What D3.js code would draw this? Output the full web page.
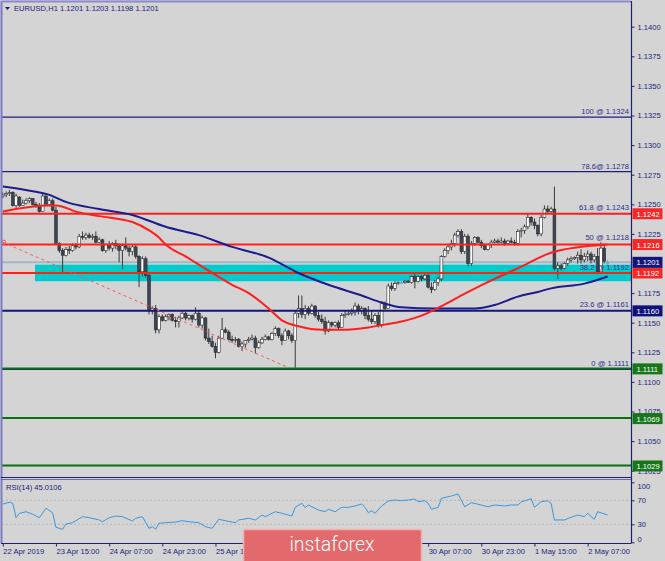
<!DOCTYPE html>
<html><head><meta charset="utf-8">
<script src="https://cdn.jsdelivr.net/npm/d3@7"></script>
<style>
html,body{margin:0;padding:0;background:#d4d4d4;}
svg{display:block;font-family:"Liberation Sans",Arial,sans-serif;}
</style>
</head><body>
<svg id="c" width="665" height="561"></svg>
<script>
// ---------------- DATA ----------------
const titleText = "EURUSD,H1  1.1201 1.1203 1.1198 1.1201";
const rsiTitle = "RSI(14) 45.0106";

const opens = [1.1257,1.1258,1.1259,1.1260,1.1249,1.1256,1.1249,1.1251,1.1253,1.1255,
1.1250,1.1248,1.1244,1.1257,1.1250,1.1253,1.1245,1.1217,1.1211,1.1207,
1.1212,1.1211,1.1215,1.1214,1.1223,1.1222,1.1224,1.1222,1.1223,1.1218,
1.1220,1.1211,1.1216,1.1213,1.1217,1.1215,1.1211,1.1215,1.1213,1.1210,
1.1214,1.1206,1.1193,1.1204,1.1190,1.1160,1.1162,1.1144,1.1155,1.1152,
1.1155,1.1157,1.1152,1.1151,1.1154,1.1158,1.1154,1.1156,1.1153,1.1158,
1.1148,1.1154,1.1137,1.1134,1.1130,1.1125,1.1137,1.1144,1.1142,1.1136,
1.1135,1.1136,1.1130,1.1132,1.1135,1.1136,1.1137,1.1129,1.1133,1.1136,
1.1138,1.1136,1.1141,1.1145,1.1139,1.1135,1.1143,1.1139,1.1135,1.1158,
1.1162,1.1157,1.1162,1.1158,1.1164,1.1156,1.1153,1.1151,1.1143,1.1150,
1.1148,1.1150,1.1146,1.1156,1.1157,1.1158,1.1159,1.1164,1.1160,1.1162,
1.1156,1.1153,1.1151,1.1156,1.1148,1.1166,1.1162,1.1181,1.1179,1.1183,
1.1184,1.1184,1.1185,1.1184,1.1189,1.1185,1.1189,1.1187,1.1190,1.1180,
1.1178,1.1184,1.1187,1.1206,1.1211,1.1214,1.1217,1.1224,1.1227,1.1210,
1.1223,1.1200,1.1217,1.1222,1.1218,1.1215,1.1212,1.1216,1.1218,1.1219,
1.1218,1.1219,1.1217,1.1219,1.1218,1.1217,1.1227,1.1228,1.1231,1.1239,
1.1235,1.1232,1.1225,1.1239,1.1246,1.1244,1.1246,1.1196,1.1198,1.1196,
1.1200,1.1203,1.1204,1.1205,1.1207,1.1203,1.1206,1.1208,1.1203,1.1206,
1.1193,1.1213,1.1201];

const highs = [1.1260,1.1261,1.1262,1.1261,1.1259,1.1257,1.1254,1.1255,1.1256,1.1255,
1.1252,1.1251,1.1259,1.1259,1.1255,1.1255,1.1248,1.1218,1.1213,1.1214,
1.1215,1.1217,1.1217,1.1225,1.1227,1.1226,1.1226,1.1225,1.1227,1.1222,
1.1221,1.1217,1.1219,1.1218,1.1220,1.1217,1.1217,1.1222,1.1215,1.1216,
1.1216,1.1207,1.1206,1.1206,1.1191,1.1164,1.1165,1.1157,1.1157,1.1157,
1.1158,1.1158,1.1155,1.1156,1.1160,1.1159,1.1157,1.1157,1.1163,1.1160,
1.1156,1.1155,1.1145,1.1139,1.1133,1.1139,1.1154,1.1146,1.1144,1.1139,
1.1138,1.1137,1.1134,1.1135,1.1138,1.1140,1.1139,1.1135,1.1138,1.1140,
1.1139,1.1142,1.1147,1.1146,1.1141,1.1145,1.1144,1.1141,1.1160,1.1173,
1.1173,1.1165,1.1164,1.1166,1.1165,1.1159,1.1157,1.1155,1.1152,1.1151,
1.1151,1.1152,1.1158,1.1160,1.1161,1.1162,1.1167,1.1166,1.1164,1.1163,
1.1164,1.1160,1.1158,1.1159,1.1168,1.1168,1.1183,1.1184,1.1185,1.1185,
1.1186,1.1186,1.1186,1.1190,1.1191,1.1190,1.1190,1.1192,1.1191,1.1184,
1.1186,1.1189,1.1207,1.1213,1.1216,1.1220,1.1226,1.1229,1.1229,1.1225,
1.1225,1.1219,1.1223,1.1223,1.1220,1.1217,1.1217,1.1220,1.1221,1.1221,
1.1222,1.1221,1.1220,1.1222,1.1220,1.1229,1.1230,1.1233,1.1242,1.1240,
1.1238,1.1233,1.1241,1.1249,1.1249,1.1248,1.1265,1.1201,1.1200,1.1201,
1.1205,1.1206,1.1206,1.1210,1.1212,1.1209,1.1211,1.1210,1.1208,1.1213,
1.1218,1.1216,1.1203];

const lows = [1.1255,1.1256,1.1257,1.1248,1.1247,1.1248,1.1249,1.1250,1.1251,1.1249,
1.1247,1.1243,1.1244,1.1249,1.1249,1.1244,1.1217,1.1209,1.1192,1.1206,
1.1208,1.1210,1.1212,1.1213,1.1220,1.1220,1.1221,1.1220,1.1217,1.1217,
1.1210,1.1209,1.1211,1.1210,1.1212,1.1201,1.1195,1.1211,1.1206,1.1207,
1.1204,1.1180,1.1189,1.1188,1.1157,1.1157,1.1141,1.1141,1.1151,1.1151,
1.1152,1.1151,1.1146,1.1146,1.1153,1.1152,1.1152,1.1150,1.1152,1.1146,
1.1145,1.1135,1.1132,1.1129,1.1120,1.1124,1.1136,1.1141,1.1135,1.1133,
1.1133,1.1129,1.1126,1.1129,1.1133,1.1135,1.1124,1.1128,1.1132,1.1135,
1.1135,1.1135,1.1139,1.1137,1.1131,1.1135,1.1136,1.1133,1.1112,1.1154,
1.1154,1.1153,1.1156,1.1157,1.1154,1.1151,1.1149,1.1140,1.1142,1.1146,
1.1146,1.1144,1.1146,1.1154,1.1156,1.1156,1.1156,1.1157,1.1157,1.1153,
1.1151,1.1149,1.1149,1.1146,1.1146,1.1160,1.1162,1.1177,1.1177,1.1182,
1.1183,1.1183,1.1184,1.1183,1.1179,1.1184,1.1185,1.1186,1.1179,1.1175,
1.1177,1.1181,1.1185,1.1205,1.1208,1.1211,1.1214,1.1222,1.1208,1.1208,
1.1198,1.1198,1.1215,1.1217,1.1213,1.1211,1.1211,1.1213,1.1217,1.1217,
1.1217,1.1215,1.1216,1.1217,1.1215,1.1215,1.1222,1.1225,1.1229,1.1232,
1.1229,1.1223,1.1223,1.1238,1.1242,1.1242,1.1194,1.1187,1.1194,1.1195,
1.1198,1.1201,1.1203,1.1200,1.1200,1.1201,1.1202,1.1200,1.1201,1.1191,
1.1191,1.1200,1.1199];

const closes = [1.1258,1.1259,1.1260,1.1249,1.1257,1.1249,1.1251,1.1253,1.1255,1.1250,
1.1248,1.1244,1.1257,1.1250,1.1253,1.1245,1.1217,1.1211,1.1207,1.1212,
1.1211,1.1215,1.1214,1.1223,1.1222,1.1224,1.1222,1.1223,1.1218,1.1220,
1.1211,1.1216,1.1213,1.1217,1.1215,1.1211,1.1215,1.1213,1.1210,1.1214,
1.1206,1.1193,1.1204,1.1190,1.1160,1.1162,1.1144,1.1155,1.1152,1.1155,
1.1157,1.1152,1.1151,1.1154,1.1158,1.1154,1.1156,1.1153,1.1158,1.1148,
1.1154,1.1137,1.1134,1.1130,1.1125,1.1137,1.1144,1.1142,1.1136,1.1135,
1.1136,1.1130,1.1132,1.1135,1.1136,1.1137,1.1129,1.1133,1.1136,1.1138,
1.1136,1.1141,1.1145,1.1139,1.1135,1.1143,1.1139,1.1135,1.1158,1.1162,
1.1157,1.1162,1.1158,1.1164,1.1156,1.1153,1.1151,1.1143,1.1150,1.1148,
1.1150,1.1146,1.1156,1.1157,1.1158,1.1159,1.1164,1.1160,1.1162,1.1156,
1.1153,1.1151,1.1156,1.1148,1.1166,1.1162,1.1181,1.1179,1.1183,1.1184,
1.1184,1.1185,1.1184,1.1189,1.1185,1.1189,1.1187,1.1190,1.1180,1.1178,
1.1184,1.1187,1.1206,1.1211,1.1214,1.1217,1.1224,1.1227,1.1210,1.1223,
1.1200,1.1217,1.1222,1.1218,1.1215,1.1212,1.1216,1.1218,1.1219,1.1218,
1.1219,1.1217,1.1219,1.1218,1.1217,1.1227,1.1228,1.1231,1.1239,1.1235,
1.1232,1.1225,1.1239,1.1246,1.1244,1.1246,1.1196,1.1198,1.1196,1.1200,
1.1203,1.1204,1.1205,1.1207,1.1203,1.1206,1.1208,1.1203,1.1206,1.1193,
1.1213,1.1202,1.1201];

// moving averages: [bar index, price]
const redMA = [[0,1.1244],[14,1.1249],[16,1.1249],[23,1.1243],[29,1.1240],[39,1.1235],[44,1.1228],[47,1.1222],[49,1.1216],[55,1.1206],[63,1.1192],[69,1.1182],[74,1.1175],[80,1.1162],[84,1.1152],[89,1.1147],[96,1.1144],[102,1.1144],[110,1.1146],[114,1.1148],[120,1.1151],[126,1.1156],[132,1.1164],[138,1.1173],[145,1.1183],[155,1.1196],[166,1.1210],[182,1.1216]];
const blueMA = [[0,1.1265],[9,1.1261],[14,1.1258],[19,1.1252],[29,1.1246],[39,1.1241],[49,1.1231],[59,1.1224],[69,1.1214],[80,1.1205],[89,1.1192],[98,1.1182],[108,1.1173],[114,1.1167],[120,1.1163],[130,1.1162],[142,1.1162],[148,1.1165],[155,1.1172],[161,1.1176],[165,1.1179],[175,1.1183],[182,1.1189]];

// RSI(14): [bar index, value]
const rsiData = [[0,63.8],[2,66.7],[3,65],[4,41],[5,48.3],[7,51],[9,46.7],[11,41],[13,56.7],[15,49.3],[16,25],[18,21.7],[19,30.5],[21,32.7],[24,42.7],[26,41],[29,37.2],[30,34.3],[32,41],[34,43.8],[36,42.7],[39,35.5],[40,40],[42,42.7],[44,23.3],[45,26],[46,21.7],[47,31.7],[49,32.7],[52,33.8],[54,36],[56,34.3],[59,32.7],[61,26],[63,23.3],[65,38.3],[67,36],[70,32.7],[71,37.2],[74,40],[76,37.2],[78,45.5],[79,42.7],[82,51],[84,48.3],[87,43.8],[88,58.3],[90,65],[91,57.7],[92,62.2],[95,53.8],[97,51],[98,55],[100,51],[102,58.3],[104,58.3],[106,60.5],[108,63.8],[109,58.3],[110,49.3],[111,52.7],[112,48.3],[114,60.5],[116,68.8],[118,70.5],[120,69.3],[122,70.5],[124,72.2],[125,67.7],[127,69.3],[128,65],[129,55],[131,58.3],[132,73.3],[135,77.2],[137,80.5],[139,59.3],[141,66],[144,62.2],[146,59.3],[148,62.2],[151,60.5],[153,62.2],[155,62.2],[156,67.2],[159,72.7],[160,58.3],[162,67.7],[164,69.3],[165,65],[166,37.2],[169,37.2],[171,41.7],[173,45.5],[175,42.7],[176,48.3],[178,38.3],[179,51],[182,45.5]];
const rsiLevels = [70, 30];
const rsiTicks = [100, 70, 30, 0];

// price ticks visible in the picture (1.1200 is hidden behind the bid label)
const priceTicks = [1.1400,1.1375,1.1350,1.1325,1.1300,1.1275,1.1250,1.1225,1.1175,1.1150,1.1125,1.1100,1.1075,1.1050,1.1025];
// time labels visible in the picture (the ones under the watermark are hidden)
const timeLabels = ["22 Apr 2019","23 Apr 15:00","24 Apr 07:00","24 Apr 23:00","25 Apr 15:00","30 Apr 07:00","30 Apr 23:00","1 May 15:00","2 May 07:00"];
const timeLabelBars = [0,16,32,48,64,128,144,160,176];

const fibTexts = ["100 @ 1.1324","78.6@ 1.1278","61.8 @ 1.1243","50 @ 1.1218","38.2 @ 1.1192","23.6 @ 1.1161","0 @ 1.1111"];
const fibPrices = [1.1324,1.1278,1.1243,1.1218,1.1192,1.1161,1.1111];
const fibLinePrices = [1.1324,1.1278,1.1111];
const redLevels = [1.1242,1.1216,1.1192];
const navyLevels = [1.1160];
const greenLevels = [1.1111,1.1069,1.1029];
const bidPrice = 1.1201;
const zone = {startBar:10, top:1.1199, bottom:1.1185};
const trendLine = [[0,1.1218],[86,1.1112]];
const watermark = "instaforex";

// ---------------- DRAW ----------------
const svg = d3.select("#c");
const NAVY = "#1f1f7a", TXT = "#22227a";
const PL = 2, PR = 631, PT = 2, PB = 477, RT = 480, RB = 543;

const x = d3.scaleLinear().domain([0,189]).range([2.8,630.85]);
const y = d3.scaleLinear().domain([1.1400,1.1025]).range([26.7,470.7]);
const yR = d3.scaleLinear().domain([0,100]).range([542.3,482.3]);

svg.append("rect").attr("width",665).attr("height",561).attr("fill","#d4d4d4");

const defs = svg.append("defs");
defs.append("clipPath").attr("id","mainClip").append("rect")
  .attr("x",PL).attr("y",PT).attr("width",PR-PL).attr("height",PB-PT);
defs.append("clipPath").attr("id","rsiClip").append("rect")
  .attr("x",PL).attr("y",RT).attr("width",PR-PL).attr("height",RB-RT);

const main = svg.append("g").attr("clip-path","url(#mainClip)");

// zone rectangle
main.append("rect")
  .attr("x", x(zone.startBar)-1).attr("y", y(zone.top))
  .attr("width", PR - x(zone.startBar) + 1).attr("height", y(zone.bottom)-y(zone.top))
  .attr("fill","#00cccc");

// fib navy lines
main.selectAll(".fibl").data(fibLinePrices).join("line")
  .attr("x1",PL).attr("x2",PR).attr("y1",d=>y(d)+0.5).attr("y2",d=>y(d)+0.5)
  .attr("stroke",NAVY).attr("stroke-width",1.2);

// bid line
main.append("line").attr("x1",PL).attr("x2",PR)
  .attr("y1",y(bidPrice)).attr("y2",y(bidPrice))
  .attr("stroke","#a7b6c6").attr("stroke-width",2);

// candles
const idx = d3.range(opens.length);
const cg = main.append("g");
cg.selectAll(".wick").data(idx).join("line")
  .attr("x1",i=>x(i)).attr("x2",i=>x(i))
  .attr("y1",i=>y(highs[i])).attr("y2",i=>y(lows[i]))
  .attr("stroke",i=>closes[i]===opens[i]?"#6ea6dc":"#3a3a3a").attr("stroke-width",1);
cg.selectAll(".body").data(idx).join("rect")
  .attr("x",i=>x(i)-1.4).attr("width",2.8)
  .attr("y",i=>Math.min(y(opens[i]),y(closes[i])))
  .attr("height",i=>Math.max(1,Math.abs(y(opens[i])-y(closes[i]))))
  .attr("fill",i=>closes[i]>opens[i]?"#ffffff":(closes[i]<opens[i]?"#3b4757":"#6ea6dc"))
  .attr("stroke",i=>closes[i]===opens[i]?"#6ea6dc":"#2a2a2a").attr("stroke-width",0.6);

// horizontal levels
main.selectAll(".navyl").data(navyLevels).join("line")
  .attr("x1",PL).attr("x2",PR).attr("y1",d=>y(d)).attr("y2",d=>y(d))
  .attr("stroke","#141482").attr("stroke-width",2);
main.selectAll(".greenl").data(greenLevels).join("line")
  .attr("x1",PL).attr("x2",PR).attr("y1",d=>y(d)-0.5).attr("y2",d=>y(d)-0.5)
  .attr("stroke","#0c6e12").attr("stroke-width",2);
main.selectAll(".redl").data(redLevels).join("line")
  .attr("x1",PL).attr("x2",PR).attr("y1",d=>y(d)).attr("y2",d=>y(d))
  .attr("stroke","#ff1f1f").attr("stroke-width",2);

// moving averages
const maLine = d3.line().x(d=>x(d[0])).y(d=>y(d[1])).curve(d3.curveMonotoneX);
main.append("path").datum(blueMA).attr("d",maLine).attr("fill","none")
  .attr("stroke","#1c1c8e").attr("stroke-width",2);
main.append("path").datum(redMA).attr("d",maLine).attr("fill","none")
  .attr("stroke","#ff1e1e").attr("stroke-width",2);

// trend line
main.append("line")
  .attr("x1",x(trendLine[0][0])).attr("y1",y(trendLine[0][1]))
  .attr("x2",x(trendLine[1][0])).attr("y2",y(trendLine[1][1]))
  .attr("stroke","#ff5a5a").attr("stroke-width",1).attr("stroke-dasharray","3,3");
main.append("circle").attr("cx",x(trendLine[0][0])+1).attr("cy",y(trendLine[0][1]))
  .attr("r",2).attr("fill","none").attr("stroke","#ff5a5a").attr("stroke-width",1);

// fib texts
main.selectAll(".fibt").data(fibTexts).join("text")
  .attr("x",629).attr("y",(d,i)=>y(fibPrices[i])-2.5)
  .attr("text-anchor","end").attr("font-size",7.6).attr("fill","#2d2d8c")
  .text(d=>d);

// title
svg.append("path").attr("d","M5,7 L10,7 L7.5,10 Z").attr("fill",NAVY);
svg.append("text").attr("x",14).attr("y",11).attr("font-size",7.6).attr("fill",TXT).text(titleText);

// frames
svg.append("line").attr("x1",1.5).attr("x2",1.5).attr("y1",1).attr("y2",RB).attr("stroke","#7c7cc4").attr("stroke-width",2);
svg.append("line").attr("x1",1).attr("x2",PR).attr("y1",1.5).attr("y2",1.5).attr("stroke","#8a8acc").attr("stroke-width",2);
svg.append("line").attr("x1",PR+0.5).attr("x2",PR+0.5).attr("y1",1).attr("y2",RB+0.5).attr("stroke",NAVY).attr("stroke-width",1.2);
svg.append("line").attr("x1",1).attr("x2",PR).attr("y1",PB+0.5).attr("y2",PB+0.5).attr("stroke",NAVY).attr("stroke-width",1.2);
svg.append("line").attr("x1",1).attr("x2",PR).attr("y1",RT-0.5).attr("y2",RT-0.5).attr("stroke","#6b6bb8").attr("stroke-width",1.2);
svg.append("line").attr("x1",1).attr("x2",PR).attr("y1",RB+0.5).attr("y2",RB+0.5).attr("stroke",NAVY).attr("stroke-width",1.2);

// price axis
const ya = svg.append("g").attr("transform",`translate(${PR+0.5},0)`)
  .call(d3.axisRight(y).tickValues(priceTicks).tickFormat(d3.format(".4f")).tickSize(3).tickPadding(3));
ya.select(".domain").remove();
ya.selectAll("line").attr("stroke",NAVY);
ya.selectAll("text").attr("fill",TXT).attr("font-size",7.6).attr("font-family","Liberation Sans, Arial, sans-serif");

// price label boxes
function box(price, fill){
  const g = svg.append("g").attr("transform",`translate(${PR+1.5},${y(price)})`);
  g.append("rect").attr("x",0).attr("y",-5.5).attr("width",30).attr("height",11).attr("fill",fill);
  g.append("text").attr("x",4).attr("y",3).attr("font-size",7.6).attr("fill","#ffffff").text(d3.format(".4f")(price));
}
redLevels.forEach(p=>box(p,"#f52828"));
box(bidPrice,"#14147a");
navyLevels.forEach(p=>box(p,"#10107a"));
greenLevels.forEach(p=>box(p,"#16761a"));

// RSI panel
const rg = svg.append("g").attr("clip-path","url(#rsiClip)");
rg.selectAll(".lvl").data(rsiLevels).join("line")
  .attr("x1",PL).attr("x2",PR).attr("y1",d=>yR(d)).attr("y2",d=>yR(d))
  .attr("stroke","#b4b4b4").attr("stroke-width",1).attr("stroke-dasharray","2,2");
rg.append("path").datum(rsiData)
  .attr("d",d3.line().x(d=>x(d[0])).y(d=>yR(d[1])))
  .attr("fill","none").attr("stroke","#3a98e0").attr("stroke-width",1);
svg.append("text").attr("x",6).attr("y",490).attr("font-size",7.6).attr("fill",TXT).text(rsiTitle);

const ra = svg.append("g").attr("transform",`translate(${PR+0.5},0)`)
  .call(d3.axisRight(yR).tickValues(rsiTicks).tickSize(3).tickPadding(3));
ra.select(".domain").remove();
ra.selectAll("line").attr("stroke",NAVY);
ra.selectAll("text").attr("fill",TXT).attr("font-size",7.6).attr("font-family","Liberation Sans, Arial, sans-serif")
  .attr("dy",d=>d===100?"0.75em":(d===0?"-0.1em":"0.32em"));

// time axis
const xa = svg.append("g").attr("transform",`translate(0,${RB+0.5})`)
  .call(d3.axisBottom(x).tickValues(timeLabelBars).tickFormat((d,i)=>timeLabels[i]).tickSize(3).tickPadding(2));
xa.select(".domain").remove();
xa.selectAll("line").attr("stroke",NAVY);
xa.selectAll("text").attr("fill",TXT).attr("font-size",7.6).attr("text-anchor","start")
  .attr("font-family","Liberation Sans, Arial, sans-serif");

// watermark
const wm = svg.append("g");
wm.append("rect").attr("x",243.5).attr("y",529.5).attr("width",178).attr("height",40).attr("rx",2)
  .attr("fill","#e36a6c").attr("stroke","#f4b0b0").attr("stroke-width",1.5);
wm.append("text").attr("x",332).attr("y",551).attr("text-anchor","middle")
  .attr("font-family","Roboto, 'Open Sans', sans-serif").attr("font-weight",300)
  .attr("font-size",19.5).attr("fill","#ffffff").text(watermark);
</script>
</body></html>
